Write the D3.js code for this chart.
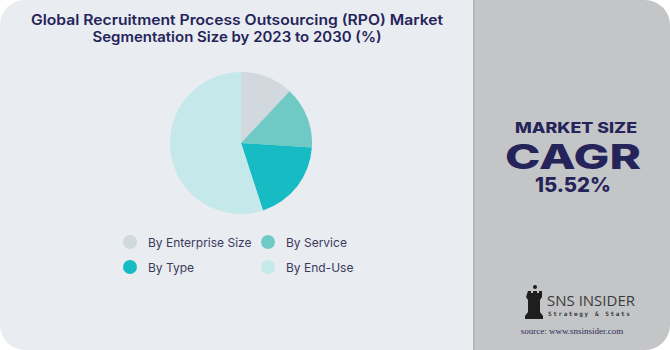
<!DOCTYPE html>
<html><head><meta charset="utf-8">
<script src="https://cdn.jsdelivr.net/npm/d3@7"></script>
<style>html,body{margin:0;padding:0;background:#fff;}svg{display:block;}</style>
</head><body>
<svg id="c" width="670" height="350"></svg>
<script>
const categories = ["By Enterprise Size", "By Service", "By Type", "By End-Use"];
const values = [12, 14, 19, 55];
const colors = ["#d1d8de", "#6fcac5", "#17bbc3", "#c5e8ea"];
const titleLines = ["Global Recruitment Process Outsourcing (RPO) Market", "Segmentation Size by 2023 to 2030 (%)"];
const cagrLabel = "MARKET SIZE";
const cagrWord = "CAGR";
const cagrValue = "15.52%";

const svg = d3.select("#c");
const navy = "#25245a";

// panels
svg.append("path").attr("fill", "#e9ecf1")
  .attr("d", "M25,0 H474 V350 H25 A25,25 0 0 1 0,325 V25 A25,25 0 0 1 25,0 Z");
svg.append("path").attr("fill", "#c4c5c7")
  .attr("d", "M474,0 H645 A25,25 0 0 1 670,25 V325 A25,25 0 0 1 645,350 H474 Z");
svg.append("rect").attr("x", 473).attr("y", 0).attr("width", 2).attr("height", 350).attr("fill", "#b4b6b9");

// title
const titleW = [412, 289];
svg.append("g").selectAll("text").data(titleLines).join("text")
  .attr("x", 237).attr("y", (d, i) => 25 + i * 17)
  .attr("text-anchor", "middle")
  .attr("font-family", "Inter, 'Open Sans', sans-serif")
  .attr("font-weight", 600).attr("font-size", 14.2)
  .attr("textLength", (d, i) => titleW[i]).attr("lengthAdjust", "spacingAndGlyphs")
  .attr("fill", navy).text(d => d);

// pie
const pie = d3.pie().sort(null).value(d => d);
const arc = d3.arc().innerRadius(0).outerRadius(71);
const g = svg.append("g").attr("transform", "translate(241,143)");
g.selectAll("path").data(pie(values)).join("path")
  .attr("d", arc).attr("fill", (d, i) => colors[i]);

// legend
const legX = [130, 268], legY = [242, 267];
const leg = svg.append("g").selectAll("g").data(categories).join("g")
  .attr("transform", (d, i) => `translate(${legX[i % 2]},${legY[Math.floor(i / 2)]})`);
leg.append("circle").attr("r", 7).attr("fill", (d, i) => colors[i]);
leg.append("text").attr("x", 18).attr("y", 4.5)
  .attr("font-family", "Inter, 'Open Sans', sans-serif").attr("font-size", 12)
  .attr("fill", "#3a3a5c").text(d => d);

// right panel text
const rp = svg.append("g").attr("font-family", "Inter, 'Open Sans', sans-serif").attr("fill", navy).attr("text-anchor", "middle");
rp.append("text").attr("x", 576).attr("y", 133).attr("font-weight", 800).attr("font-size", 14.5)
  .attr("textLength", 122).attr("lengthAdjust", "spacingAndGlyphs").text(cagrLabel);
rp.append("text").attr("x", 573).attr("y", 169).attr("font-weight", 800).attr("font-size", 34.5)
  .attr("textLength", 136).attr("lengthAdjust", "spacingAndGlyphs").text(cagrWord);
rp.append("text").attr("x", 573).attr("y", 191.5).attr("font-weight", 800).attr("font-size", 19.5)
  .attr("textLength", 76).attr("lengthAdjust", "spacingAndGlyphs").text(cagrValue);

// logo
const lg = svg.append("g").attr("fill", "#1e1e1e");
lg.append("circle").attr("cx", 535).attr("cy", 287).attr("r", 2);
lg.append("path").attr("d", "M528,291 h3 v2 h2 v-2 h4 v2 h2 v-2 h3 v6 l-2,3 v12 l3,4 v3 h-18 v-3 l3,-4 v-12 l-2,-3 Z");
svg.append("text").attr("x", 547).attr("y", 306).attr("font-family", "'Open Sans', sans-serif")
  .attr("font-size", 15).attr("fill", "#3a3a3a").attr("font-weight", 500).text("SNS INSIDER");
svg.append("text").attr("x", 548).attr("y", 315.5).attr("font-family", "'DejaVu Sans Mono', monospace")
  .attr("font-size", 6).attr("fill", "#3a3a3a").attr("font-weight", 700).attr("letter-spacing", 1.6).text("Strategy & Stats");
svg.append("text").attr("x", 572).attr("y", 334).attr("text-anchor", "middle").attr("font-family", "'Liberation Serif', serif")
  .attr("font-size", 9).attr("fill", "#2b2b5a").text("source: www.snsinsider.com");
</script>
</body></html>
